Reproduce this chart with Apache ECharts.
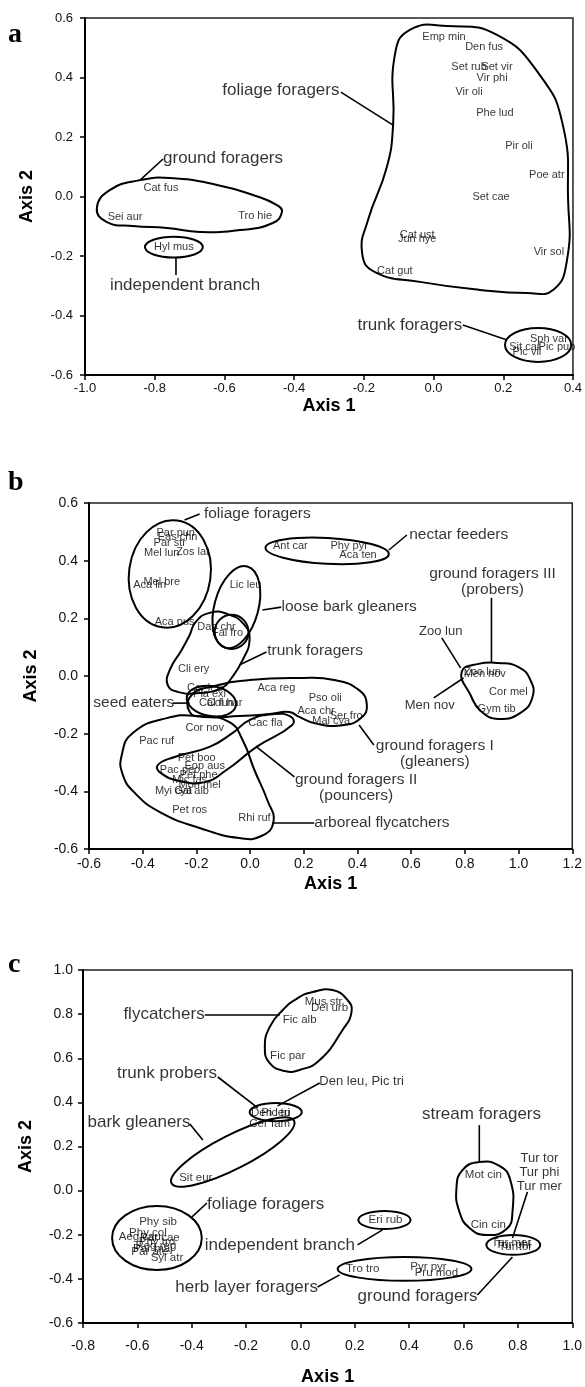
<!DOCTYPE html>
<html lang="en">
<head>
<meta charset="UTF-8">
<script src="https://cdn.jsdelivr.net/npm/echarts@6/dist/echarts.min.js"></script>
<style>
  html, body { margin: 0; padding: 0; background: #fff; }
  #chart { width: 585px; height: 1387px; }
</style>
</head>
<body>
<div id="chart"></div>
<script>
// ---------- panel a ----------
var aNames = ['Emp min', 'Den fus', 'Set rub', 'Set vir', 'Vir phi', 'Vir oli', 'Phe lud', 'Pir oli', 'Poe atr', 'Set cae',
  'Cat ust', 'Jun hye', 'Vir sol', 'Cat gut', 'Sph var', 'Sit car', 'Pic pub', 'Pic vil', 'Cat fus', 'Sei aur', 'Tro hie', 'Hyl mus'];
var aX = [0.030, 0.145, 0.102, 0.182, 0.168, 0.102, 0.176, 0.245, 0.325, 0.165,
  -0.047, -0.047, 0.331, -0.111, 0.331, 0.262, 0.354, 0.268, -0.782, -0.885, -0.512, -0.745];
var aY = [0.536, 0.503, 0.435, 0.435, 0.398, 0.351, 0.281, 0.170, 0.072, -0.001,
  -0.129, -0.143, -0.186, -0.250, -0.479, -0.506, -0.506, -0.522, 0.029, -0.069, -0.065, -0.170];
var aGroupNames = ['foliage foragers', 'ground foragers', 'independent branch', 'trunk foragers'];
var aGroupX = [-0.438, -0.604, -0.713, -0.068];
var aGroupY = [0.358, 0.129, -0.297, -0.432];
var aOutlines = [
  [[-0.116, 0.240], [-0.111, 0.476], [-0.068, 0.560], [0.039, 0.573], [0.182, 0.543], [0.305, 0.408], [0.371, 0.240],
   [0.386, -0.012], [0.383, -0.213], [0.343, -0.314], [0.268, -0.324], [0.133, -0.314], [-0.039, -0.287],
   [-0.168, -0.254], [-0.205, -0.190], [-0.188, -0.079], [-0.134, 0.099]],
  [[-0.966, -0.039], [-0.928, 0.022], [-0.842, 0.055], [-0.756, 0.062], [-0.621, 0.039], [-0.518, 0.005], [-0.449, -0.029],
   [-0.435, -0.052], [-0.461, -0.089], [-0.555, -0.113], [-0.670, -0.119], [-0.765, -0.106], [-0.862, -0.099], [-0.937, -0.086]]
];
// centre x, centre y, half width, half height, turn (deg)
var aEllipses = [[-0.745, -0.170, 0.083, 0.035, 0], [0.300, -0.499, 0.095, 0.057, 0]];
var aLeaders = [
  [[-0.266, 0.351], [-0.116, 0.240]],
  [[-0.776, 0.126], [-0.842, 0.055]],
  [[-0.739, -0.203], [-0.739, -0.264]],
  [[0.084, -0.432], [0.211, -0.482]]
];

// ---------- panel b ----------
var bNames = ['Par pun', 'Eas chn', 'Par str', 'Zos lat', 'Mel lun', 'Aca lin', 'Mel bre', 'Aca pus', 'Lic leu', 'Dap chr',
  'Fal fro', 'Cli ery', 'Cor leu', 'Pla exi', 'Cal fun', 'Col har', 'Aca reg', 'Pso oli', 'Aca chr', 'Mal cya',
  'Ser fro', 'Cac fla', 'Cor nov', 'Pac ruf', 'Pet boo', 'Eop aus', 'Pac pec', 'Pet phe', 'Mic fas', 'Mon mel',
  'Myi cya', 'Gal alb', 'Pet ros', 'Rhi ruf', 'Ant car', 'Phy pyr', 'Aca ten', 'Zoo lun', 'Men nov', 'Cor mel', 'Gym tib'];
var bX = [-0.277, -0.270, -0.299, -0.214, -0.329, -0.374, -0.329, -0.281, -0.017, -0.125,
  -0.084, -0.210, -0.169, -0.151, -0.125, -0.095, 0.098, 0.280, 0.246, 0.302,
  0.358, 0.057, -0.169, -0.348, -0.199, -0.169, -0.262, -0.192, -0.225, -0.188,
  -0.285, -0.218, -0.225, 0.016, 0.150, 0.369, 0.402, 0.866, 0.874, 0.962, 0.918];
var bY = [0.496, 0.482, 0.461, 0.430, 0.427, 0.316, 0.326, 0.187, 0.316, 0.170,
  0.149, 0.024, -0.042, -0.062, -0.094, -0.094, -0.042, -0.076, -0.121, -0.156,
  -0.139, -0.163, -0.180, -0.225, -0.284, -0.312, -0.326, -0.343, -0.361, -0.378,
  -0.399, -0.399, -0.465, -0.492, 0.451, 0.451, 0.420, 0.013, 0.007, -0.055, -0.114];
var bGroupNames = ['foliage foragers', 'nectar feeders', 'loose bark gleaners', 'trunk foragers', 'seed eaters',
  'ground foragers I\n(gleaners)', 'ground foragers II\n(pouncers)', 'arboreal flycatchers', 'ground foragers III\n(probers)'];
var bGroupX = [0.027, 0.777, 0.369, 0.242, -0.433, 0.688, 0.395, 0.491, 0.903];
var bGroupY = [0.562, 0.489, 0.239, 0.087, -0.094, -0.271, -0.388, -0.510, 0.326];
var bCalloutNames = ['Zoo lun', 'Men nov'];
var bCalloutX = [0.710, 0.669];
var bCalloutY = [0.156, -0.101];
var bOutlines = [
  [[-0.203, 0.187], [-0.151, 0.219], [-0.084, 0.215], [-0.021, 0.177], [-0.002, 0.125], [-0.028, 0.055], [-0.069, -0.007],
   [-0.106, -0.042], [-0.188, -0.059], [-0.270, -0.055], [-0.307, -0.031], [-0.299, 0.021], [-0.255, 0.090], [-0.225, 0.142]],
  [[-0.225, -0.125], [-0.218, -0.066], [-0.132, -0.035], [-0.002, -0.014], [0.183, -0.007], [0.313, -0.014], [0.406, -0.049],
   [0.435, -0.101], [0.413, -0.146], [0.350, -0.170], [0.250, -0.166], [0.183, -0.142], [0.146, -0.125], [0.072, -0.132],
   [-0.040, -0.139], [-0.169, -0.142]],
  [[-0.344, -0.309], [-0.281, -0.281], [-0.151, -0.246], [-0.066, -0.198], [-0.002, -0.153], [0.090, -0.132], [0.153, -0.142],
   [0.157, -0.170], [0.024, -0.246], [-0.088, -0.326], [-0.169, -0.368], [-0.262, -0.364], [-0.333, -0.336]],
  [[-0.478, -0.274], [-0.437, -0.198], [-0.311, -0.146], [-0.188, -0.139], [-0.077, -0.160], [-0.028, -0.222], [0.016, -0.326],
   [0.064, -0.430], [0.087, -0.506], [0.042, -0.555], [-0.040, -0.562], [-0.188, -0.527], [-0.336, -0.472], [-0.429, -0.406],
   [-0.474, -0.343]],
  [[0.788, 0.014], [0.851, 0.042], [0.925, 0.045], [1.000, 0.031], [1.044, -0.014], [1.052, -0.073], [1.007, -0.128],
   [0.925, -0.149], [0.859, -0.121], [0.821, -0.066]]
];
var bEllipses = [
  [-0.299, 0.354, 0.152, 0.187, -8],
  [0.287, 0.434, 0.230, 0.045, -3],
  [-0.051, 0.239, 0.082, 0.146, -15],
  [-0.069, 0.153, 0.063, 0.059, 0],
  [-0.144, -0.087, 0.093, 0.052, -10]
];
var bLeaders = [
  [[-0.244, 0.541], [-0.188, 0.562]],
  [[0.517, 0.437], [0.584, 0.489]],
  [[0.046, 0.229], [0.116, 0.239]],
  [[-0.040, 0.038], [0.061, 0.083]],
  [[-0.288, -0.094], [-0.225, -0.094]],
  [[0.406, -0.170], [0.461, -0.239]],
  [[0.024, -0.246], [0.165, -0.350]],
  [[0.083, -0.510], [0.239, -0.510]],
  [[0.899, 0.271], [0.899, 0.045]],
  [[0.714, 0.132], [0.784, 0.028]],
  [[0.684, -0.076], [0.795, -0.007]]
];

// ---------- panel c ----------
var cNames = ['Mus str', 'Del urb', 'Fic alb', 'Fic par', 'Den leu', 'Pic tri', 'Cer fam', 'Sit eur', 'Phy sib', 'Phy col',
  'Aeg cau', 'Par cae', 'Phy tro', 'Reg reg', 'Par maj', 'Par ate', 'Syl atr', 'Eri rub', 'Tro tro', 'Pyr pyr',
  'Pru mod', 'Mot cin', 'Cin cin', 'Tur mer', 'Tur phi', 'Tur tor'];
var cX = [0.085, 0.107, -0.003, -0.047, -0.109, -0.091, -0.113, -0.385, -0.524, -0.561,
  -0.591, -0.517, -0.528, -0.532, -0.543, -0.554, -0.491, 0.313, 0.229, 0.471,
  0.500, 0.673, 0.691, 0.776, 0.783, 0.791];
var cY = [0.855, 0.828, 0.773, 0.610, 0.352, 0.352, 0.302, 0.057, -0.142, -0.192,
  -0.210, -0.215, -0.233, -0.251, -0.265, -0.278, -0.305, -0.133, -0.355, -0.346,
  -0.373, 0.071, -0.156, -0.237, -0.246, -0.256];
var cGroupNames = ['flycatchers', 'trunk probers', 'bark gleaners', 'foliage foragers', 'independent branch',
  'herb layer foragers', 'stream foragers', 'ground foragers'];
var cGroupX = [-0.502, -0.491, -0.594, -0.128, -0.076, -0.198, 0.666, 0.431];
var cGroupY = [0.801, 0.533, 0.311, -0.061, -0.246, -0.437, 0.347, -0.478];
var cCalloutNames = ['Den leu, Pic tri', 'Tur tor\nTur phi\nTur mer'];
var cCalloutX = [0.225, 0.879];
var cCalloutY = [0.497, 0.084];
var cOutlines = [
  [[0.045, 0.900], [0.118, 0.909], [0.173, 0.864], [0.188, 0.810], [0.155, 0.728], [0.071, 0.592], [-0.003, 0.547],
   [-0.058, 0.542], [-0.113, 0.578], [-0.131, 0.651], [-0.113, 0.742], [-0.065, 0.819], [-0.010, 0.873]],
  [[0.658, 0.130], [0.732, 0.112], [0.772, 0.048], [0.780, -0.097], [0.758, -0.174], [0.684, -0.201], [0.622, -0.169],
   [0.585, -0.097], [0.574, 0.012], [0.596, 0.093]]
];
var cEllipses = [
  [-0.091, 0.356, 0.096, 0.041, 0],
  [-0.249, 0.175, 0.253, 0.077, 27],
  [-0.528, -0.215, 0.165, 0.145, 0],
  [0.309, -0.133, 0.096, 0.041, 0],
  [0.383, -0.355, 0.246, 0.054, 0],
  [0.783, -0.246, 0.099, 0.045, 0]
];
var cLeaders = [
  [[-0.352, 0.796], [-0.076, 0.796]],
  [[-0.304, 0.515], [-0.157, 0.375]],
  [[0.071, 0.488], [-0.084, 0.384]],
  [[-0.407, 0.302], [-0.359, 0.229]],
  [[-0.400, -0.120], [-0.344, -0.056]],
  [[0.210, -0.246], [0.302, -0.178]],
  [[0.063, -0.437], [0.144, -0.382]],
  [[0.658, 0.297], [0.658, 0.130]],
  [[0.835, -0.006], [0.780, -0.215]],
  [[0.651, -0.473], [0.780, -0.301]]
];

var FONT = 'Liberation Sans, Arial, sans-serif';

// text labels placed on data points (no visible symbol)
function textSeries(idx, names, xs, ys, size) {
  return {
    type: 'scatter', xAxisIndex: idx, yAxisIndex: idx, silent: true,
    symbolSize: 1, itemStyle: { color: 'rgba(0,0,0,0)' },
    label: {
      show: true, position: 'inside', formatter: '{b}', color: '#000',
      fontFamily: FONT, fontSize: size, lineHeight: Math.round(size * 1.05)
    },
    data: names.map(function (n, i) { return { name: n, value: [xs[i], ys[i]] }; })
  };
}

// closed smooth outlines
function outlineSeries(idx, shapes) {
  return {
    type: 'custom', xAxisIndex: idx, yAxisIndex: idx, silent: true, clip: false,
    data: shapes.map(function (s, i) { return [s[0][0], s[0][1], i]; }),
    encode: { x: 0, y: 1 },
    renderItem: function (params, api) {
      var pts = shapes[api.value(2)].map(function (p) { return api.coord(p); });
      return {
        type: 'polygon', shape: { points: pts, smooth: 0.5 },
        style: { fill: 'none', stroke: '#000', lineWidth: 2 }
      };
    }
  };
}

function ellipseSeries(idx, list) {
  return {
    type: 'custom', xAxisIndex: idx, yAxisIndex: idx, silent: true, clip: false,
    data: list.map(function (e, i) { return [e[0], e[1], i]; }),
    encode: { x: 0, y: 1 },
    renderItem: function (params, api) {
      var e = list[api.value(2)];
      var c = api.coord([e[0], e[1]]);
      var s = api.size([e[2], e[3]]);
      return {
        type: 'ellipse', x: c[0], y: c[1], rotation: e[4] * Math.PI / 180,
        shape: { cx: 0, cy: 0, rx: s[0], ry: s[1] },
        style: { fill: 'none', stroke: '#000', lineWidth: 2 }
      };
    }
  };
}

function leaderSeries(idx, list) {
  return {
    type: 'custom', xAxisIndex: idx, yAxisIndex: idx, silent: true, clip: false,
    data: list.map(function (l, i) { return [l[0][0], l[0][1], i]; }),
    encode: { x: 0, y: 1 },
    renderItem: function (params, api) {
      var pts = list[api.value(2)].map(function (p) { return api.coord(p); });
      return {
        type: 'polyline', shape: { points: pts },
        style: { fill: 'none', stroke: '#000', lineWidth: 1.6 }
      };
    }
  };
}

function fmt(v) { return Math.abs(v) < 1e-9 ? '0.0' : v.toFixed(1); }

function xAxisOf(idx, min, max, size, margin, gap) {
  return {
    type: 'value', gridIndex: idx, min: min, max: max, interval: 0.2,
    name: 'Axis 1', nameLocation: 'middle', nameGap: gap,
    nameTextStyle: { fontFamily: FONT, fontWeight: 'bold', fontSize: 18, color: '#000' },
    axisLine: { onZero: false, lineStyle: { color: '#000', width: 2 } },
    axisTick: { inside: false, length: 5, lineStyle: { color: '#000', width: 1.5 } },
    axisLabel: { formatter: fmt, fontFamily: FONT, fontSize: size, color: '#111', margin: margin },
    splitLine: { show: false }
  };
}

function yAxisOf(idx, min, max, size, margin, gap) {
  return {
    type: 'value', gridIndex: idx, min: min, max: max, interval: 0.2,
    name: 'Axis 2', nameLocation: 'middle', nameGap: gap,
    nameTextStyle: { fontFamily: FONT, fontWeight: 'bold', fontSize: 18, color: '#000' },
    axisLine: { onZero: false, lineStyle: { color: '#000', width: 2 } },
    axisTick: { inside: false, length: 5, lineStyle: { color: '#000', width: 1.5 } },
    axisLabel: { formatter: fmt, fontFamily: FONT, fontSize: size, color: '#111', margin: margin },
    splitLine: { show: false }
  };
}

var chart = echarts.init(document.getElementById('chart'), null, { renderer: 'canvas' });

var option = {
  backgroundColor: '#fff',
  animation: false,
  grid: [
    { left: 85, top: 18, width: 488, height: 357, show: true, borderColor: '#222', borderWidth: 1.5 },
    { left: 89, top: 503, width: 485, height: 346, show: true, borderColor: '#222', borderWidth: 1.5 },
    { left: 83, top: 970, width: 490, height: 353, show: true, borderColor: '#222', borderWidth: 1.5 }
  ],
  xAxis: [
    xAxisOf(0, -1.0, 0.4, 13, 7, 22),
    xAxisOf(1, -0.6, 1.2, 14, 8, 26),
    xAxisOf(2, -0.8, 1.0, 14, 16, 45)
  ],
  yAxis: [
    yAxisOf(0, -0.6, 0.6, 13, 12, 49),
    yAxisOf(1, -0.6, 0.6, 14, 11, 49),
    yAxisOf(2, -0.6, 1.0, 14, 10, 48)
  ],
  graphic: [
    { type: 'text', left: 8, top: 21, style: { text: 'a', font: 'bold 28px Liberation Serif, serif', fill: '#000' } },
    { type: 'text', left: 8, top: 469, style: { text: 'b', font: 'bold 28px Liberation Serif, serif', fill: '#000' } },
    { type: 'text', left: 8, top: 951, style: { text: 'c', font: 'bold 28px Liberation Serif, serif', fill: '#000' } }
  ],
  series: [
    outlineSeries(0, aOutlines),
    ellipseSeries(0, aEllipses),
    leaderSeries(0, aLeaders),
    textSeries(0, aNames, aX, aY, 11),
    textSeries(0, aGroupNames, aGroupX, aGroupY, 17),

    outlineSeries(1, bOutlines),
    ellipseSeries(1, bEllipses),
    leaderSeries(1, bLeaders),
    textSeries(1, bNames, bX, bY, 11),
    textSeries(1, bGroupNames, bGroupX, bGroupY, 15.5),
    textSeries(1, bCalloutNames, bCalloutX, bCalloutY, 13),

    outlineSeries(2, cOutlines),
    ellipseSeries(2, cEllipses),
    leaderSeries(2, cLeaders),
    textSeries(2, cNames, cX, cY, 11.5),
    textSeries(2, cGroupNames, cGroupX, cGroupY, 17),
    textSeries(2, cCalloutNames, cCalloutX, cCalloutY, 13)
  ]
};

chart.setOption(option);
</script>
</body>
</html>
